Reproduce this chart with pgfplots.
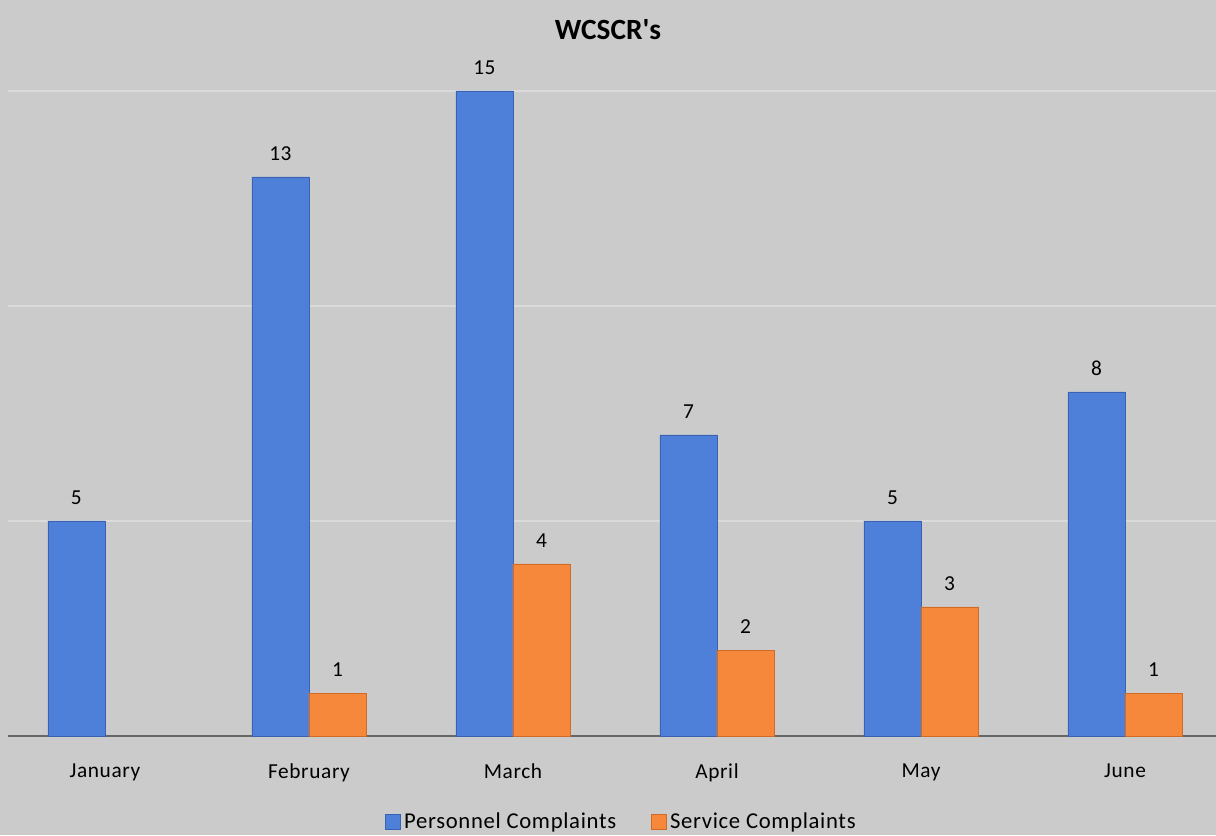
\documentclass[border=0pt]{standalone}
\usepackage{pgfplots}
\pgfplotsset{compat=1.18}
\usepackage{fontspec}
\setmainfont{Carlito}
\newfontfamily\lsfont{Carlito}[LetterSpace=3]
\definecolor{bg}{HTML}{CBCBCB}
\definecolor{gridc}{HTML}{DADADA}
\definecolor{pblue}{HTML}{4F80D9}
\definecolor{pblueD}{HTML}{3A62B0}
\definecolor{sorange}{HTML}{F5883A}
\definecolor{sorangeD}{HTML}{D06A25}
\begin{document}
\begin{tikzpicture}
\fill[bg] (0pt,0pt) rectangle (912pt,626.25pt);
\path[use as bounding box] (0pt,0pt) rectangle (912pt,626.25pt);
\node[font=\bfseries\fontsize{22}{26}\selectfont] at (456pt,603.75pt) {WCSCR\textquotesingle s};
\begin{axis}[
  at={(6pt,74.25pt)}, anchor=south west,
  scale only axis, width=906pt, height=516pt,
  ymin=0, ymax=16, xmin=-0.475, xmax=5.446,
  axis y line*=left, axis x line*=bottom,
  y axis line style={draw=none},
  x axis line style={draw=gray!80!black, line width=0.8pt, -},
  ytick={5,10,15}, yticklabels={}, ymajorgrids,
  major y tick style={draw=none},
  major grid style={draw=gridc, line width=0.9pt},
  xtick={0,1,2,3,4,5}, xticklabels={January,February,March,April,May,June},
  major x tick style={draw=none},
  xticklabel style={font=\lsfont\fontsize{16}{19}\selectfont, yshift=-17pt},
  /pgf/number format/assume math mode=true,
  clip=false,
  nodes near coords,
  every node near coord/.append style={font=\lsfont\fontsize{16}{19}\selectfont, yshift=9pt},
  legend columns=2,
  legend style={at={(0.508,-0.125)}, anchor=center, draw=none, fill=none,
    font=\lsfont\fontsize{17}{20}\selectfont,
    /tikz/every even column/.append style={column sep=24pt},
    /tikz/every odd column/.append style={column sep=1pt}},
  legend image code/.code={\fill[#1] (0pt,-5.5pt) rectangle (11pt,5.5pt);},
]
\addplot[ybar, bar width=0.28, bar shift=-0.14, draw=pblueD, fill=pblue,
  every node near coord/.append style={xshift=-21.4pt}]
  coordinates {(0,5) (1,13) (2,15) (3,7) (4,5) (5,8)};
\addlegendentry{Personnel Complaints}
\addplot[ybar, bar width=0.28, bar shift=0.14, draw=sorangeD, fill=sorange,
  every node near coord/.append style={xshift=21.4pt}]
  coordinates {(1,1) (2,4) (3,2) (4,3) (5,1)};
\addlegendentry{Service Complaints}
\end{axis}
\end{tikzpicture}
\end{document}
